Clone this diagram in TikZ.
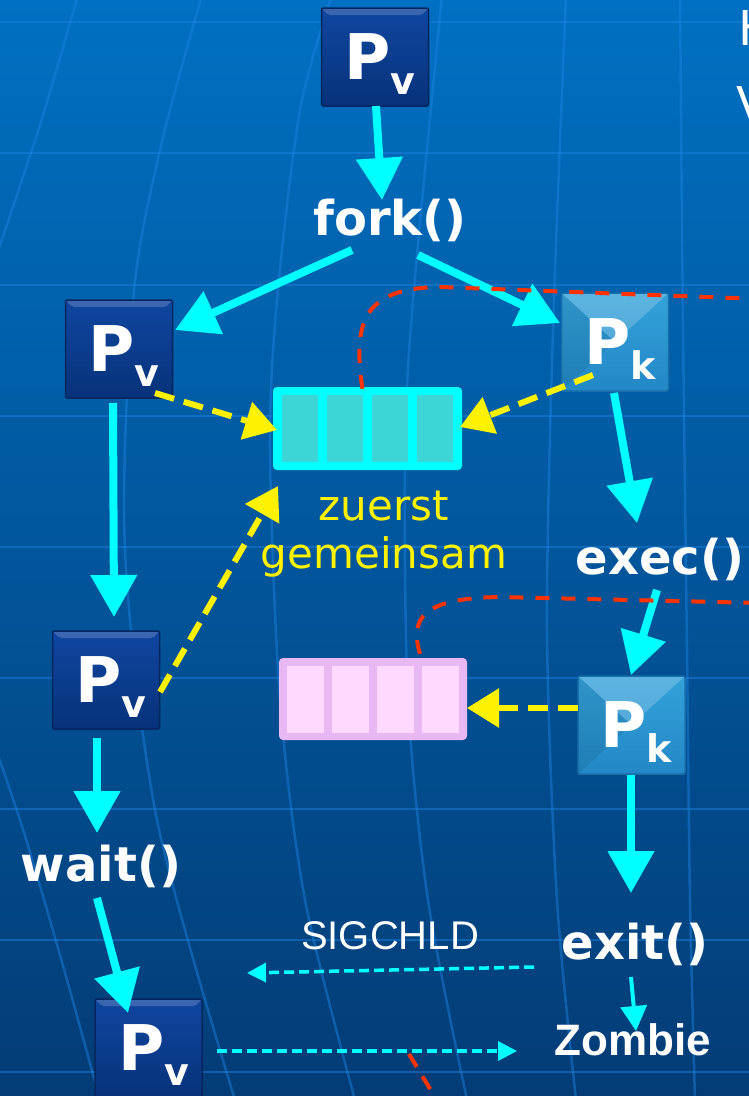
\documentclass[tikz,border=0pt]{standalone}
\usepackage{fontspec}
\setmainfont{DejaVu Sans}
\newfontfamily\arialfont{Liberation Sans}
\usetikzlibrary{arrows.meta, positioning, calc}

\definecolor{bgtop}{RGB}{0,112,194}
\definecolor{bgbot}{RGB}{3,60,118}
\definecolor{gridblue}{RGB}{30,132,228}
\definecolor{flowcyan}{RGB}{0,255,255}
\definecolor{cellcyan}{RGB}{60,214,214}
\definecolor{qpink}{RGB}{232,184,245}
\definecolor{cellpink}{RGB}{255,217,255}
\definecolor{cutred}{RGB}{255,51,0}
\definecolor{pvlight}{RGB}{16,70,160}
\definecolor{pvdark}{RGB}{7,50,122}
\definecolor{pvedge}{RGB}{6,38,96}
\definecolor{pklight}{RGB}{52,162,218}
\definecolor{pkdark}{RGB}{34,136,198}
\definecolor{pkedge}{RGB}{24,110,170}

% process label: big P, lowered index
\newcommand{\pname}[1]{\raisebox{-22pt}[0pt][0pt]{\hspace*{10pt}\bfseries\fontsize{63}{63}\selectfont P\raisebox{-15pt}{\fontsize{38}{38}\selectfont #1}}}

\begin{document}
\begin{tikzpicture}[x=1pt, y=-1pt,
    pv/.style={rectangle, rounded corners=2pt, draw=pvedge, line width=1.5pt, top color=pvlight, bottom color=pvdark, minimum width=107pt, minimum height=98pt, inner sep=0pt, text=white,
      path picture={\fill[white, opacity=0.18] (path picture bounding box.north west) -- (path picture bounding box.north east) -- ([xshift=-7pt,yshift=-7pt]path picture bounding box.north east) -- ([xshift=7pt,yshift=-7pt]path picture bounding box.north west) -- cycle;}},
    pk/.style={rectangle, rounded corners=2pt, draw=pkedge, line width=1.5pt, top color=pklight, bottom color=pkdark, minimum width=107pt, minimum height=98pt, inner sep=0pt, text=white,
      path picture={\fill[white, opacity=0.2] (path picture bounding box.north west) -- (path picture bounding box.north east) -- (path picture bounding box.center) -- cycle;
        \fill[black, opacity=0.08] (path picture bounding box.north west) -- (path picture bounding box.south west) -- (path picture bounding box.center) -- cycle;}},
    call/.style={text=white, font=\fontsize{48}{48}\selectfont\bfseries, inner sep=0pt},
    queue/.style={rectangle, rounded corners=4pt, minimum width=189pt, minimum height=83pt, inner sep=0pt},
    grid/.style={gridblue, line width=2.5pt, opacity=0.45},
    flow/.style={-{Triangle[length=42pt,width=45pt]}, line width=8pt, flowcyan},
    thinflow/.style={-{Triangle[length=25pt,width=26pt]}, line width=4pt, flowcyan},
    share/.style={-{Triangle[length=32pt,width=38pt]}, line width=6pt, yellow, dash pattern=on 20pt off 10pt},
    signal/.style={-{Triangle[length=19pt,width=19pt]}, line width=3.5pt, flowcyan, dash pattern=on 10pt off 5pt},
    cut/.style={line width=4pt, cutred, dash pattern=on 14pt off 12pt}
]
\useasboundingbox (0,0) rectangle (749,1096);
\fill[top color=bgtop, bottom color=bgbot] (0,0) rectangle (749,1096);

% background grid
\foreach \y in {22,153,285,416,547,678,809,940,1072}
  \draw[grid] (-5,\y) -- (755,\y);
\draw[grid] plot[smooth] coordinates {(78,-5) (40,125) (-5,260)};
\draw[grid] plot[smooth] coordinates {(-25,690) (20,820) (60,955) (100,1100)};
\draw[grid] plot[smooth] coordinates {(202,-5) (160,150) (133,300) (125,550) (157,820) (235,1100)};
\draw[grid] plot[smooth] coordinates {(332,-5) (300,110) (277,300) (270,450) (280,700) (305,900) (355,1100)};
\draw[grid] plot[smooth] coordinates {(442,-5) (413,300) (405,450) (408,700) (428,900) (467,1100)};
\draw[grid] plot[smooth] coordinates {(566,-5) (553,330) (547,630) (557,900) (576,1100)};
\draw[grid] plot[smooth] coordinates {(680,-5) (683,330) (687,650) (690,900) (695,1100)};

% processes and calls
\node[pv] (parent) at (375,57) {\pname{v}};
\node[call] (fork) at (390,220) {fork()};
\node[pv] (parentA) at (119,349) {\pname{v}};
\node[pk] (child) at (615,342) {\pname{k}};
\node[call] (exec) at (660,559) {exec()};
\node[pv] (parentB) at (106,680) {\pname{v}};
\node[pk] (childB) at (631.5,725) {\pname{k}};
\node[call] (wait) at (101,866) {wait()};
\node[call] (exit) at (635,944) {exit()};
\node[pv] (parentC) at (148.5,1048) {\pname{v}};
\node[text=white, inner sep=0pt, font=\arialfont\bfseries\fontsize{44}{44}\selectfont] (zombie) at (633,1040) {Zombie};
\node[text=white, inner sep=0pt, font=\arialfont\fontsize{40}{40}\selectfont] (sigtxt) at (390,936) {SIGCHLD};
\node[text=white, anchor=west, inner sep=0pt, font=\fontsize{48}{48}\selectfont] (hfrag) at (738,28) {H};
\node[text=white, anchor=west, inner sep=0pt, font=\fontsize{48}{48}\selectfont] (vfrag) at (736,104) {V};

% address spaces
\node[queue, fill=flowcyan] (sharedq) at (367.5,428.5) {};
\foreach \i in {0,...,3}
  \fill[cellcyan] ($(sharedq.north west)+(9+\i*45,8)$) rectangle +(36,67);
\node[text=yellow, align=center, inner sep=0pt, font=\fontsize{42}{48}\selectfont] (sharedtxt) at (384,534) {zuerst\\gemeinsam};
\node[queue, fill=qpink, minimum width=188pt, minimum height=82pt] (ownq) at (373,699) {};
\foreach \i in {0,...,3}
  \fill[cellpink] ($(ownq.north west)+(8+\i*45,8)$) rectangle +(37,67);

% control flow
\draw[flow] ($(parent)+(1,49)$) -- ($(fork)+(-8,-20)$);
\draw[flow] ($(fork)+(-38,30)$) -- ($(parentA)+(56,-19)$);
\draw[flow] ($(fork)+(28,35)$) -- ($(child)+(-55,-19)$);
\draw[flow] ($(parentA)+(-6,54)$) -- ($(parentB)+(8,-63)$);
\draw[flow] ($(child)+(-1,51)$) -- ($(exec)+(-23,-36)$);
\draw[flow] ($(exec)+(-3,31)$) -- ($(childB)+(-0.5,-50)$);
\draw[flow] ($(parentB)+(-9,58)$) -- ($(wait)+(-4,-33)$);
\draw[flow] ($(wait)+(-4,32)$) -- ($(parentC)+(-20.5,-35)$);
\draw[flow] ($(childB)+(-0.5,50)$) -- ($(exit)+(-4,-51)$);
\draw[thinflow] ($(exit)+(-4,33)$) -- ($(zombie)+(3,-9)$);

% memory access
\draw[share] ($(parentA)+(36,44)$) -- ($(sharedq)+(-90.5,1.5)$);
\draw[share] ($(child)+(-22,33)$) -- ($(sharedq)+(92.5,-1.5)$);
\draw[share] ($(parentB)+(54,12)$) -- ($(sharedq)+(-89.5,57.5)$);
\draw[share] ($(childB)+(-53.5,-17)$) -- ($(ownq)+(94,9)$);

% signals
\draw[signal] ($(exit)+(-101,23)$) -- ($(parentC)+(98.5,-75)$);
\draw[signal] ($(parentC)+(68.5,3)$) -- ($(zombie)+(-116,11)$);

% boundaries
\coordinate (cutA) at (760,299);
\coordinate (cutB) at (760,603);
\coordinate (cutC1) at (409,1054);
\coordinate (cutC2) at (447,1117);
\draw[cut] ($(sharedq.north)+(-5,2)$) .. controls (352,320) and (365,288) .. (440,287) -- (cutA);
\draw[cut] ($(ownq.north)+(47,-4)$) .. controls (410,620) and (420,598) .. (500,597) -- (cutB);
\draw[cut, dash pattern=on 15pt off 11pt] (cutC1) -- (cutC2);
\end{tikzpicture}
\end{document}
